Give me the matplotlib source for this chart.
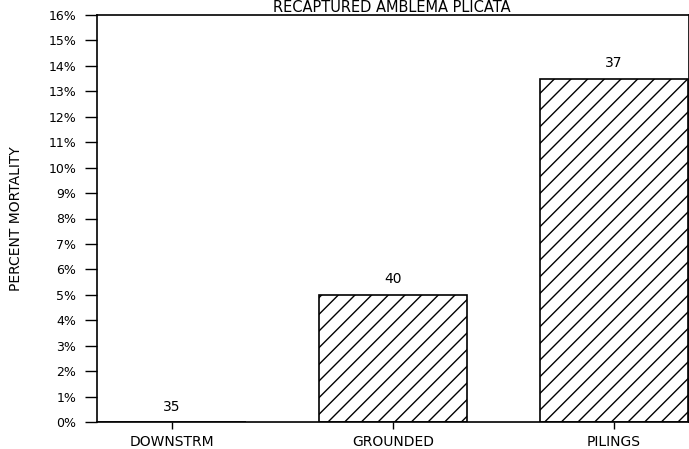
import matplotlib
matplotlib.use("Agg")
import matplotlib.pyplot as plt
from matplotlib.ticker import FuncFormatter

categories = ["DOWNSTRM", "GROUNDED", "PILINGS"]
mortality_pct = [0.0, 5.0, 13.5]
counts = ["35", "40", "37"]

plt.rcParams['hatch.linewidth'] = 1.0
fig = plt.figure(figsize=(6.89, 4.49), dpi=100)
ax = fig.add_axes([97/689, 1-422/449, (689-97)/689, (422-15)/449])

x = list(range(len(categories)))
bars = ax.bar(x, mortality_pct, width=0.67, color="white", edgecolor="black",
              hatch="//", linewidth=1.2)
for xi, v, c in zip(x, mortality_pct, counts):
    ax.text(xi, v + 0.33, c, ha="center", va="bottom", fontsize=10)

ax.set_xlim(-0.34, 2.34)
ax.set_ylim(0, 16)
ax.set_yticks(range(0, 17))
ax.yaxis.set_major_formatter(FuncFormatter(lambda v, p: f"{int(v)}%"))
ax.set_xticks(x)
ax.set_xticklabels(categories)
ax.tick_params(axis="y", direction="out", labelsize=9, length=9, width=1, pad=6)
ax.tick_params(axis="x", direction="out", labelsize=10, length=5, width=1, pad=4)
for s in ax.spines.values():
    s.set_linewidth(1.2)

ax.set_ylabel("PERCENT MORTALITY", fontsize=10, labelpad=18)
fig.text(392/689, 1-12/449, "RECAPTURED AMBLEMA PLICATA", ha="center",
         va="baseline", fontsize=10.5)

fig.savefig("out.png", dpi=100)
